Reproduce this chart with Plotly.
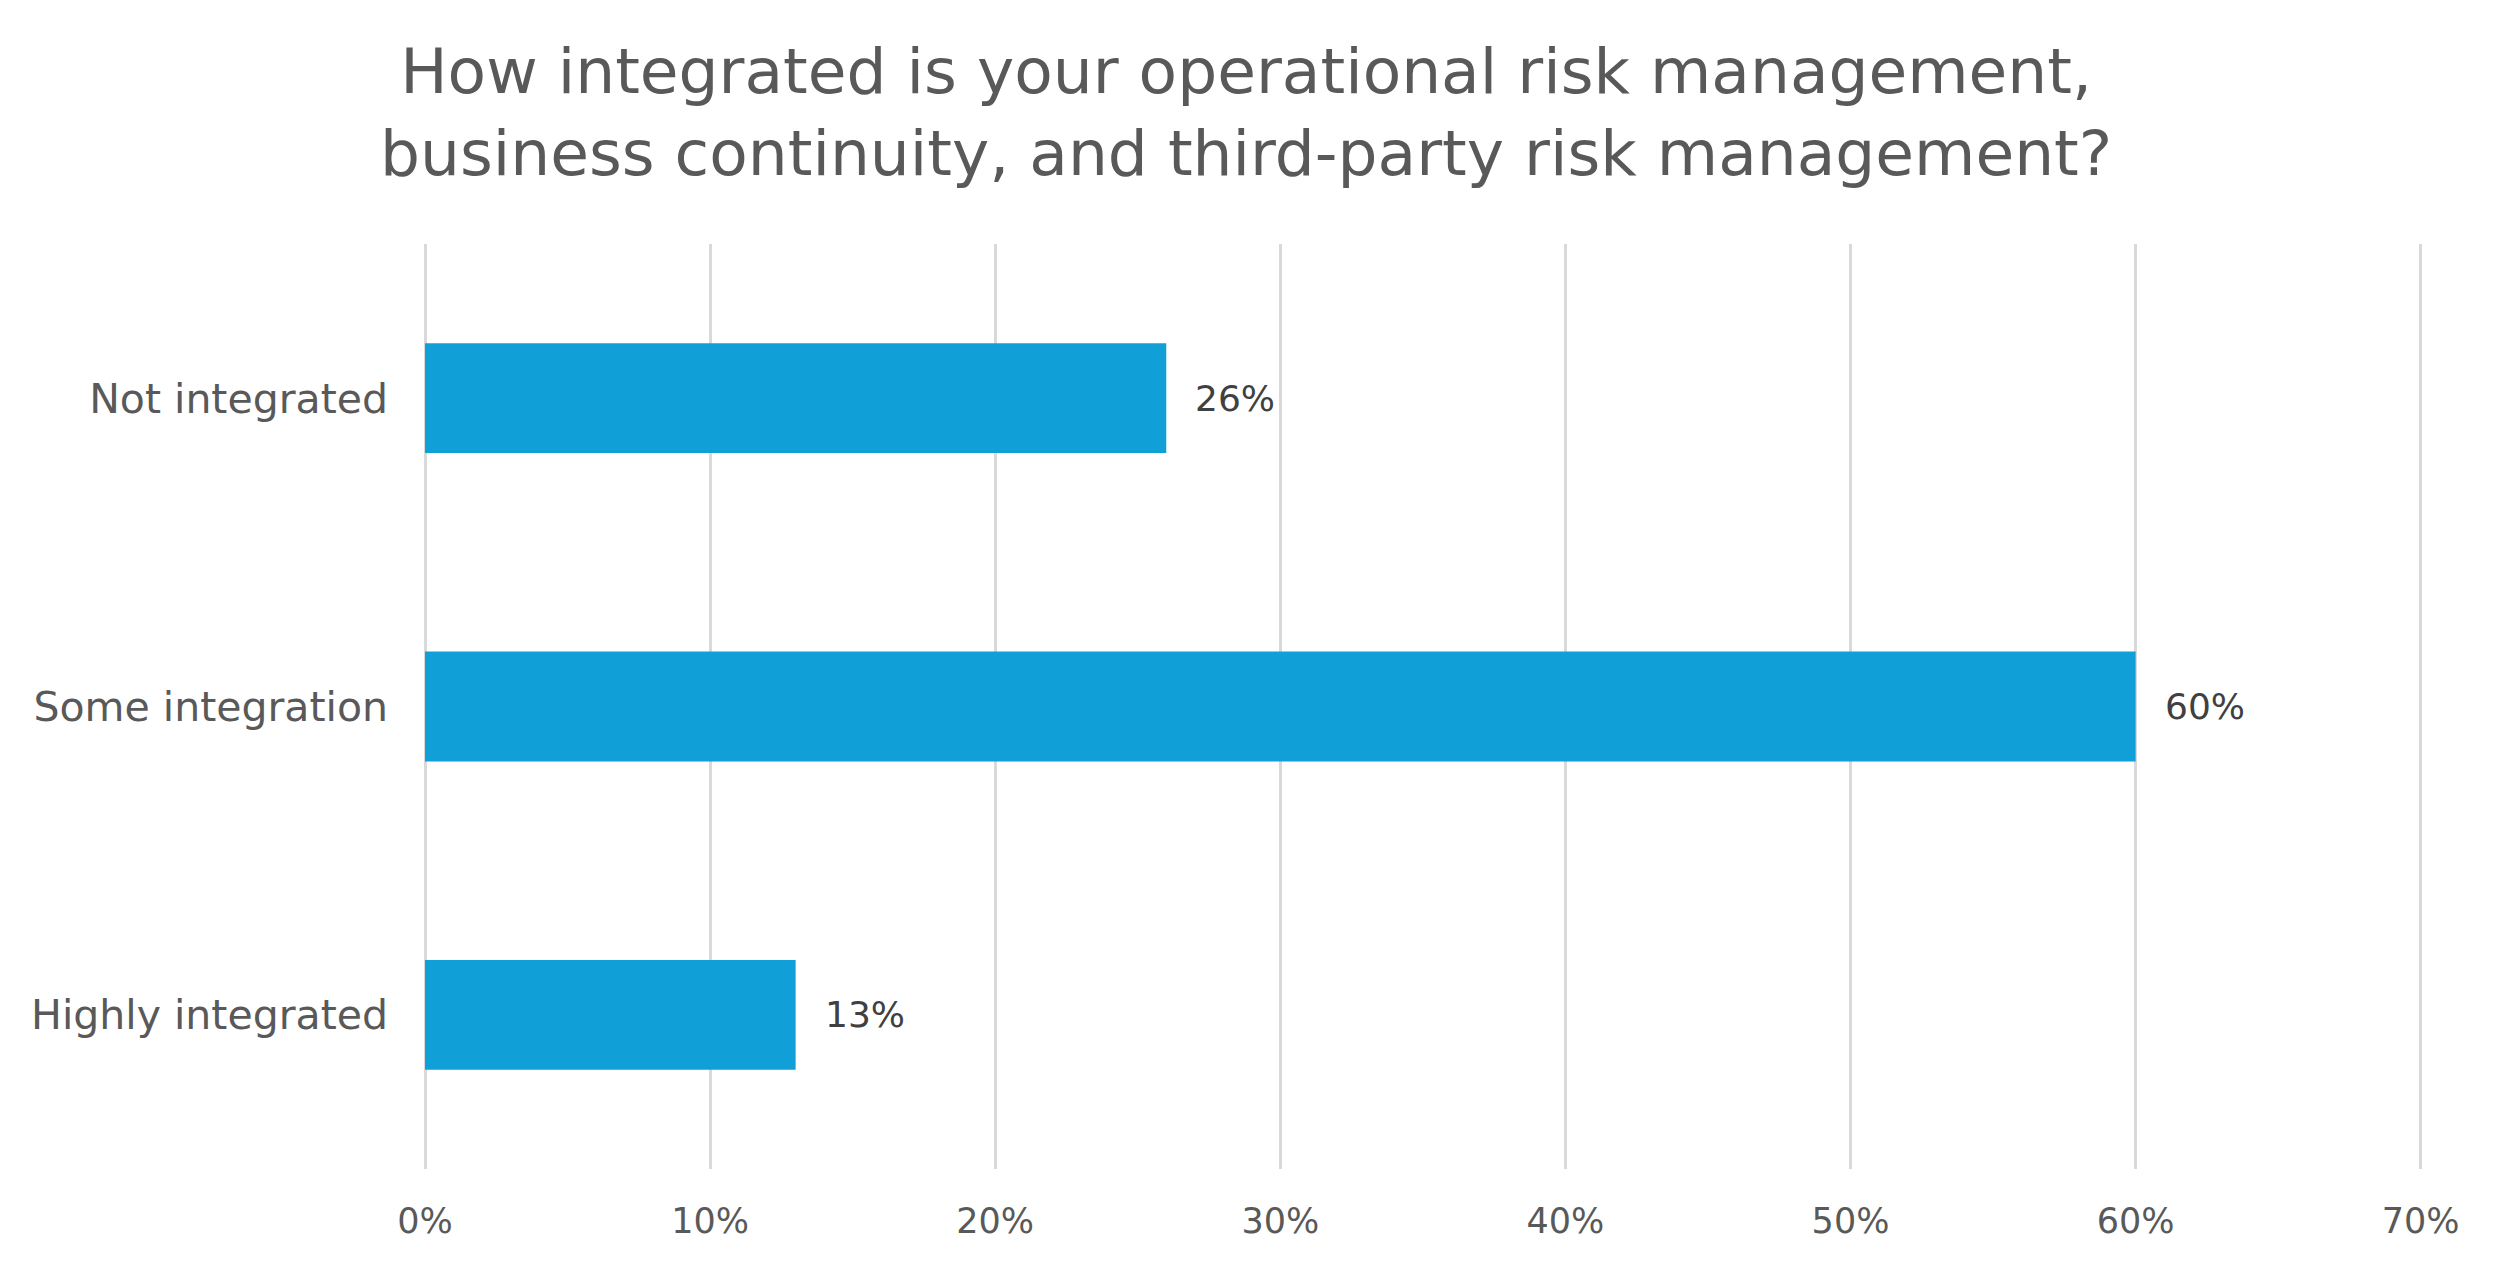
import plotly.graph_objects as go

categories = ["Not integrated", "Some integration", "Highly integrated"]
values = [0.26, 0.60, 0.13]
value_labels = ["26%", "60%", "13%"]
x_ticks = [0, 0.1, 0.2, 0.3, 0.4, 0.5, 0.6, 0.7]
x_tick_labels = ["0%", "10%", "20%", "30%", "40%", "50%", "60%", "70%"]

FONT = "DejaVu Sans"
BAR_COLOR = "#109FD6"
TEXT_GRAY = "#595959"
GRID = "#D9D9D9"

fig = go.Figure()
fig.add_trace(go.Bar(
    x=values, y=categories, orientation="h",
    marker=dict(color=BAR_COLOR, line=dict(width=0)),
    hoverinfo="skip",
))

for c, v, t in zip(categories, values, value_labels):
    fig.add_annotation(
        x=v, y=c, xref="x", yref="y", text=t, showarrow=False,
        xanchor="left", yanchor="middle", xshift=27,
        font=dict(family=FONT, size=36, color="#404040"),
    )

fig.update_layout(
    width=2514, height=1274,
    paper_bgcolor="white", plot_bgcolor="white",
    margin=dict(l=417, r=99, t=236, b=113, autoexpand=False),
    bargap=0.644,
    showlegend=False,
    title=dict(
        text="How integrated is your operational risk management,<br>business continuity, and third-party risk management?",
        x=0.4925, xanchor="center", xref="container",
        y=1 - 85 / 1274, yref="container", yanchor="middle",
        font=dict(family=FONT, size=63, color=TEXT_GRAY),
    ),
    font=dict(family=FONT, color=TEXT_GRAY),
)

fig.update_xaxes(
    range=[0, 0.7008], tickvals=x_ticks, ticktext=x_tick_labels,
    showgrid=True, gridcolor=GRID, gridwidth=3,
    zeroline=True, zerolinecolor=GRID, zerolinewidth=3,
    showline=False, ticks="",
    ticklabelstandoff=28,
    tickfont=dict(family=FONT, size=35, color=TEXT_GRAY),
    fixedrange=True,
)
fig.update_yaxes(
    categoryorder="array", categoryarray=categories[::-1],
    showgrid=False, zeroline=False, showline=False, ticks="",
    ticklabelstandoff=36,
    tickfont=dict(family=FONT, size=41, color=TEXT_GRAY),
    fixedrange=True,
)

fig.write_html("out.html", config={"displayModeBar": False})
